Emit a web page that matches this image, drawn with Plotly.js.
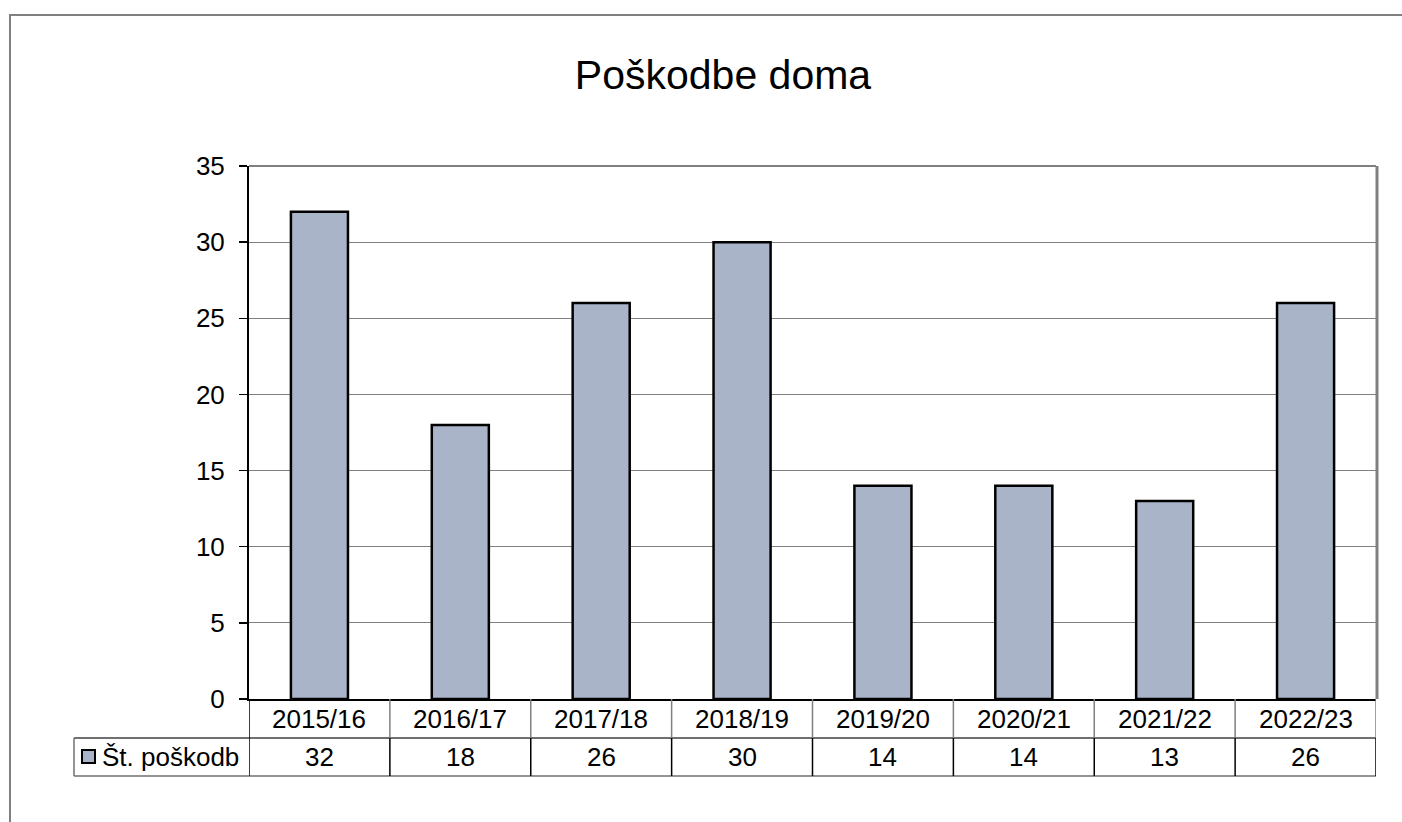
<!DOCTYPE html>
<html><head><meta charset="utf-8">
<script src="https://cdn.plot.ly/plotly-3.0.1.min.js"></script>
<style>html,body{margin:0;padding:0;background:#fff;}#chart{width:1402px;height:822px;}</style>
</head><body><div id="chart"></div>
<script>
const categories = ["2015/16","2016/17","2017/18","2018/19","2019/20","2020/21","2021/22","2022/23"];
const values = [32,18,26,30,14,14,13,26];
const seriesName = "Št. poškodb";
const chartTitle = "Poškodbe doma";
const yTicks = [0,5,10,15,20,25,30,35];

const W = 1402, H = 822;
const L = 249, R = 1376, T = 166, B = 699;
const pw = R - L, ph = B - T;
const px = x => (x - L) / pw;
const py = y => (B - y) / ph;
const FONT = "Arial, 'Liberation Sans', sans-serif";
const barColor = "#AAB4C9";
const FS = 26;

const idx = categories.map((c,i)=>i);
const shapes = [];
const annotations = [];
// outer chart border
shapes.push({type:'rect', xref:'paper', yref:'paper', x0:px(10), x1:px(1500), y0:py(900), y1:py(15), line:{color:'#808080', width:2}, layer:'below'});
// plot area top & right border
shapes.push({type:'line', xref:'paper', yref:'paper', x0:0, x1:1, y0:1, y1:1, line:{color:'#808080', width:2}});
shapes.push({type:'line', xref:'paper', yref:'paper', x0:px(R+1), x1:px(R+1), y0:0, y1:1, line:{color:'#808080', width:3}});
// table rows
const r1 = py(738), r2 = py(776);
shapes.push({type:'line', xref:'paper', yref:'paper', x0:px(74), x1:px(R), y0:r1, y1:r1, line:{color:'#404040', width:1.5}});
shapes.push({type:'line', xref:'paper', yref:'paper', x0:px(74), x1:px(R), y0:r2, y1:r2, line:{color:'#707070', width:1.5}});
shapes.push({type:'line', xref:'paper', yref:'paper', x0:px(74), x1:px(74), y0:r1, y1:r2, line:{color:'#707070', width:1.5}});
// vertical separators
for (let k = 0; k <= categories.length; k++) {
  const xv = k - 0.5;
  shapes.push({type:'line', xref:'x', yref:'paper', x0:xv, x1:xv, y0:0, y1:r1, line:{color: k===0 ? '#000' : '#808080', width:1.5}});
  shapes.push({type:'line', xref:'x', yref:'paper', x0:xv, x1:xv, y0:r1, y1:r2, line:{color:'#000', width:1.5}});
}
// legend key
shapes.push({type:'rect', xref:'paper', yref:'paper', x0:px(82), x1:px(95), y0:py(763), y1:py(750), fillcolor:barColor, line:{color:'#000', width:2}});
annotations.push({xref:'paper', yref:'paper', x:px(100), y:(r1+r2)/2, xanchor:'left', yanchor:'middle', text:seriesName, showarrow:false, font:{family:FONT, size:FS, color:'#000'}});
categories.forEach((c,i)=>{
  annotations.push({xref:'x', yref:'paper', x:i, y:r1/2, text:c, showarrow:false, xanchor:'center', yanchor:'middle', font:{family:FONT, size:FS, color:'#000'}});
  annotations.push({xref:'x', yref:'paper', x:i, y:(r1+r2)/2, text:String(values[i]), showarrow:false, xanchor:'center', yanchor:'middle', font:{family:FONT, size:FS, color:'#000'}});
});

const trace = {type:'bar', x:idx, y:values, name:seriesName, marker:{color:barColor, line:{color:'#000', width:2.5}}, hoverinfo:'skip'};

const layout = {
  width: W, height: H,
  margin:{l:L, r:W-R, t:T, b:H-B, pad:0},
  paper_bgcolor:'#fff', plot_bgcolor:'#fff',
  showlegend:false,
  bargap:0.595,
  title:{text:chartTitle, font:{family:FONT, size:41, color:'#000'}, x:723/W, xref:'container', xanchor:'center', y:1-75/H, yanchor:'middle'},
  xaxis:{range:[-0.5, categories.length-0.5], showticklabels:false, ticks:'', showgrid:false, zeroline:false, showline:true, linecolor:'#000', linewidth:2, fixedrange:true},
  yaxis:{range:[0,35], tickvals:yTicks, ticktext:yTicks.map(String), ticks:'outside', ticklen:8, tickwidth:1.5, tickcolor:'#000', showline:true, linecolor:'#000', linewidth:2, showgrid:true, gridcolor:'#808080', gridwidth:1, zeroline:false, ticklabelstandoff:9, tickfont:{family:FONT, size:FS, color:'#000'}, fixedrange:true},
  shapes: shapes,
  annotations: annotations
};
Plotly.newPlot('chart', [trace], layout, {displayModeBar:false, staticPlot:true});
</script></body></html>
